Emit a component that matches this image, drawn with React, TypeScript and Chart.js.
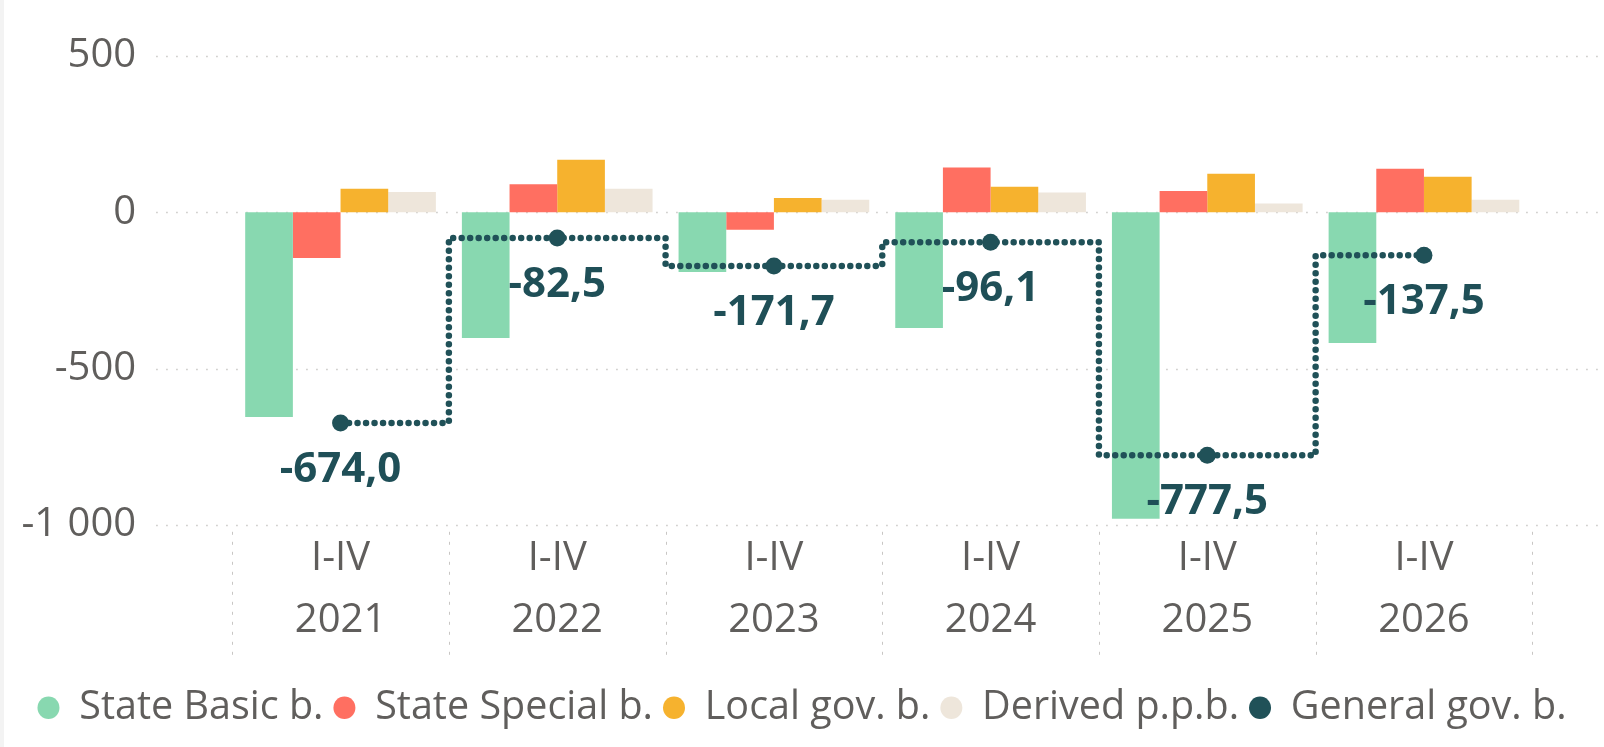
import React, { useEffect, useRef } from "react";
import { Chart, registerables } from "chart.js";
Chart.register(...registerables);

const periods = ["I-IV", "I-IV", "I-IV", "I-IV", "I-IV", "I-IV"];
const years = ["2021", "2022", "2023", "2024", "2025", "2026"];
const stateBasic = [-655, -402, -191, -370, -981, -418];
const stateSpecial = [-146, 90, -56, 143, 68, 139];
const localGov = [75, 168, 46, 82, 123, 114];
const derivedPpb = [65, 75, 40, 63, 28, 40];
const generalGov = [-674.0, -82.5, -171.7, -96.1, -777.5, -137.5];
const seriesNames = ["State Basic b.", "State Special b.", "Local gov. b.", "Derived p.p.b.", "General gov. b."];
const seriesColors = ["#88D8B0", "#FF6F61", "#F6B22E", "#EEE6DB", "#205158"];
const yTicks = [500, 0, -500, -1000];

const FONT = '"Segoe UI", "Open Sans", sans-serif';
const TEXT = "#605E5C";

const fmtThousands = (v: number) => {
  const s = Math.abs(v).toFixed(0).replace(/\B(?=(\d{3})+(?!\d))/g, " ");
  return (v < 0 ? "-" : "") + s;
};
const fmtDec = (v: number) => v.toFixed(1).replace(".", ",");

const gridPlugin = {
  id: "pbiGrid",
  beforeDatasetsDraw(chart: any) {
    const { ctx, chartArea, scales } = chart;
    const y = scales.y;
    const x = scales.x;
    ctx.save();
    ctx.strokeStyle = "#C8C6C4";
    ctx.lineWidth = 1.5;
    ctx.setLineDash([1.5, 8.5]);
    const left = chartArea.left - 76;
    const right = chart.width - 4;
    y.ticks.forEach((t: any) => {
      const py = Math.round(y.getPixelForValue(t.value)) + 0.5;
      ctx.beginPath();
      ctx.moveTo(left, py);
      ctx.lineTo(right, py);
      ctx.stroke();
    });
    const n = x.ticks.length;
    const half = (x.getPixelForValue(1) - x.getPixelForValue(0)) / 2;
    ctx.setLineDash([3, 7]);
    ctx.lineWidth = 1;
    for (let i = 0; i <= n; i++) {
      const px = Math.round(x.getPixelForValue(0) - half + i * 2 * half) + 0.5;
      ctx.beginPath();
      ctx.moveTo(px, chartArea.bottom + 7);
      ctx.lineTo(px, chartArea.bottom + 131);
      ctx.stroke();
    }
    ctx.restore();
  },
};

const labelPlugin = {
  id: "lineLabels",
  afterDatasetsDraw(chart: any) {
    const { ctx } = chart;
    const meta = chart.getDatasetMeta(4);
    ctx.save();
    ctx.font = `bold 42px ${FONT}`;
    ctx.fillStyle = "#1F4F57";
    ctx.textAlign = "center";
    ctx.textBaseline = "middle";
    meta.data.forEach((pt: any, i: number) => {
      ctx.fillText(fmtDec(generalGov[i]), pt.x, pt.y + 47);
    });
    ctx.restore();
  },
};

export default function App() {
  const ref = useRef<HTMLCanvasElement>(null);
  useEffect(() => {
    const chart = new Chart(ref.current!, {
      type: "bar",
      data: {
        labels: years.map((y, i) => [periods[i], y]),
        datasets: [
          { label: seriesNames[0], data: stateBasic, backgroundColor: seriesColors[0], order: 1 },
          { label: seriesNames[1], data: stateSpecial, backgroundColor: seriesColors[1], order: 1 },
          { label: seriesNames[2], data: localGov, backgroundColor: seriesColors[2], order: 1 },
          { label: seriesNames[3], data: derivedPpb, backgroundColor: seriesColors[3], order: 1 },
          {
            type: "line",
            label: seriesNames[4],
            data: generalGov,
            borderColor: seriesColors[4],
            backgroundColor: seriesColors[4],
            borderWidth: 6.5,
            borderDash: [0, 8.5],
            borderCapStyle: "round",
            borderJoinStyle: "round",
            stepped: "middle",
            pointRadius: 8.5,
            pointBorderWidth: 0,
            pointBackgroundColor: seriesColors[4],
            fill: false,
            order: 0,
          } as any,
        ],
      },
      options: {
        responsive: false,
        animation: false,
        layout: { padding: { top: 56, bottom: 9.5, left: 0, right: 0 } },
        datasets: { bar: { categoryPercentage: 0.88, barPercentage: 1.0, borderWidth: 0 } },
        scales: {
          x: {
            grid: { display: false, drawTicks: false },
            border: { display: false },
            ticks: {
              color: TEXT,
              font: { family: FONT, size: 40, lineHeight: 1.54 },
              padding: 3,
              maxRotation: 0,
              autoSkip: false,
            },
            afterFit: (a: any) => {
              a.height = 153.2;
              a.paddingTop = 0;
              a.paddingBottom = 0;
            },
          },
          y: {
            min: -1000,
            max: 500,
            grid: { display: false, drawTicks: false },
            border: { display: false },
            afterBuildTicks: (a: any) => {
              a.ticks = yTicks.map((v) => ({ value: v }));
            },
            ticks: {
              color: TEXT,
              font: { family: FONT, size: 40 },
              padding: 96,
              callback: (v: any) => fmtThousands(Number(v)),
            },
            afterFit: (a: any) => {
              a.width = 232.2;
              a.paddingTop = 0;
              a.paddingBottom = 0;
            },
          },
          y2: {
            position: "right",
            min: -1000,
            max: 500,
            grid: { display: false, drawTicks: false },
            border: { display: false },
            ticks: { display: false },
            afterFit: (a: any) => {
              a.width = 71.7;
              a.paddingTop = 0;
              a.paddingBottom = 0;
            },
          },
        },
        plugins: {
          tooltip: { enabled: false },
          legend: {
            position: "bottom",
            labels: {
              usePointStyle: true,
              pointStyle: "circle",
              boxHeight: 16,
              pointStyleWidth: 22,
              padding: 10,
              color: TEXT,
              font: { family: FONT, size: 39.5 },
              sort: (a: any, b: any) => a.datasetIndex - b.datasetIndex,
              generateLabels: (ch: any) =>
                (Chart.defaults.plugins.legend.labels.generateLabels as any)(ch).map((l: any) => ({
                  ...l,
                  lineWidth: 0,
                  lineDash: [],
                  pointStyle: "circle",
                  fillStyle: seriesColors[l.datasetIndex],
                  strokeStyle: seriesColors[l.datasetIndex],
                })),
            },
          },
        },
      } as any,
      plugins: [gridPlugin, labelPlugin],
    });
    return () => chart.destroy();
  }, []);
  return (
    <div style={{ position: "fixed", left: 0, top: 0, width: 1604, height: 747, background: "#fff" }}>
      <div style={{ position: "absolute", left: 0, top: 0, width: 4, height: 747, background: "#F3F3F3" }} />
      <canvas ref={ref} width={1604} height={747} style={{ display: "block" }} />
    </div>
  );
}
